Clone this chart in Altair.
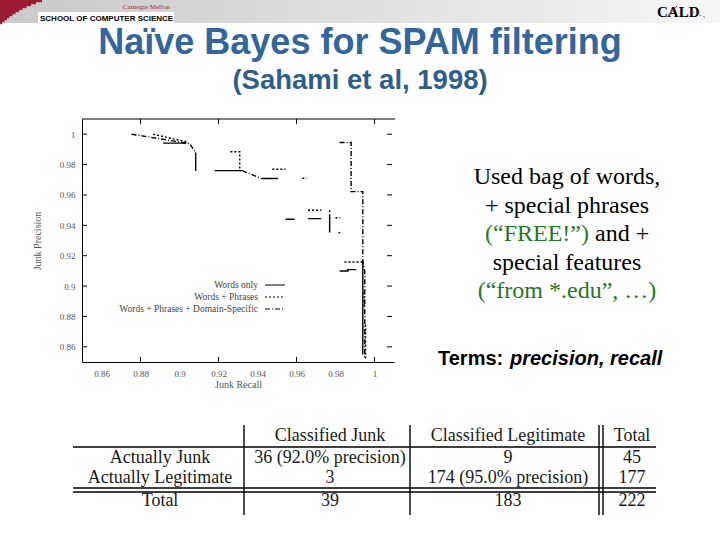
import altair as alt
import pandas as pd

# ---------------- data ----------------
series_names = ["Words only", "Words + Phrases", "Words + Phrases + Domain-Specific"]

words_recall = [0.8916, 0.9035, 0.9083, 0.9083, 0.9180, 0.9322, 0.9420, 0.9505,
                0.9544, 0.9590, 0.9659, 0.9727, 0.9770, 0.9770, 0.9821, 0.9863,
                0.9863, 0.9906, 0.9940, 0.9940]
words_precision = [0.9941, 0.9941, 0.9879, 0.9758, 0.9760, 0.9760, 0.9708, 0.9708,
                   0.9440, 0.9440, 0.9444, 0.9444, 0.9465, 0.9352, 0.9099, 0.9099,
                   0.9108, 0.9108, 0.9165, 0.8550]
words_piece = [0, 0, 1, 1, 2, 2, 3, 3, 4, 4, 5, 5, 6, 6, 7, 7, 7, 7, 8, 8]

phrases_recall = [0.8865, 0.9035, 0.9261, 0.9309, 0.9309, 0.9476, 0.9544, 0.9630,
                  0.9653, 0.9659, 0.9727, 0.9770, 0.9770, 0.9800, 0.9824, 0.9815,
                  0.9824, 0.9846, 0.9937, 0.9947, 0.9947, 0.9954, 0.9954]
phrases_precision = [1.0000, 0.9950, 0.9884, 0.9884, 0.9760, 0.9769, 0.9769, 0.9710,
                     0.9710, 0.9499, 0.9499, 0.9500, 0.9440, 0.9450, 0.9450, 0.9352,
                     0.9352, 0.9158, 0.9158, 0.8960, 0.8857, 0.8747, 0.8516]
phrases_piece = [0, 0, 1, 1, 1, 2, 2, 3, 3, 4, 4, 5, 5, 6, 6, 7, 7, 8, 8, 9, 9, 10, 10]

domain_recall = [0.8754, 0.9052, 0.9083, 0.9322, 0.9420, 0.9821, 0.9880, 0.9880,
                 0.9940, 0.9940, 0.9950, 0.9950]
domain_precision = [1.0000, 0.9938, 0.9879, 0.9760, 0.9708, 0.9945, 0.9945, 0.9622,
                    0.9622, 0.9165, 0.9100, 0.8520]
domain_piece = [0, 0, 0, 1, 1, 2, 2, 2, 2, 2, 2, 2]

x_tick_values = [0.86, 0.88, 0.90, 0.92, 0.94, 0.96, 0.98, 1.00]
y_tick_values = [0.86, 0.88, 0.90, 0.92, 0.94, 0.96, 0.98, 1.00]
x_inner_ticks = [0.88, 0.92, 0.96, 1.00]

title_text = "Naïve Bayes for SPAM filtering"
subtitle_text = "(Sahami et al, 1998)"
side_lines = ["Used bag of words,", "+ special phrases", "(“FREE!”)", "and +",
              "special features", "(“from *.edu”, …)"]
terms_bold = "Terms:"
terms_italic = "precision, recall"

table_header = ["", "Classified Junk", "Classified Legitimate", "Total"]
table_row_labels = ["Actually Junk", "Actually Legitimate", "Total"]
table_col_junk = ["36 (92.0% precision)", "3", "39"]
table_col_legit = ["9", "174 (95.0% precision)", "183"]
table_col_total = ["45", "177", "222"]

# ---------------- layout ----------------
L, T = 82, 119          # plot-area origin on the page
W, H = 312, 243         # plot-area size
def X(px):
    return px - L
def Y(py):
    return py - T

SERIF = "Liberation Serif"
SANS = "Liberation Sans"

rows = []
for name, rs, ps, pcs in [(series_names[0], words_recall, words_precision, words_piece),
                          (series_names[1], phrases_recall, phrases_precision, phrases_piece),
                          (series_names[2], domain_recall, domain_precision, domain_piece)]:
    for k, (r, p, pc) in enumerate(zip(rs, ps, pcs)):
        rows.append({"series": name, "recall": r, "precision": p,
                     "piece": f"{name}-{pc}", "k": k})
df = pd.DataFrame(rows)

xs = alt.Scale(domain=[0.85, 1.01], nice=False, zero=False)
ys = alt.Scale(domain=[0.85, 1.01], nice=False, zero=False)
x_axis = alt.Axis(values=x_tick_values, format="~g", ticks=False, grid=False,
                  domainColor="black", domainWidth=1, labelFont=SERIF, labelFontSize=9,
                  labelColor="#555", labelPadding=7, labelFlush=False, labelOverlap=False,
                  title="Junk Recall", titleFont=SERIF, titleFontSize=10,
                  titleFontWeight="normal", titleColor="#555", titlePadding=1)
y_axis = alt.Axis(values=y_tick_values, format="~g", ticks=False, grid=False,
                  domainColor="black", domainWidth=1, labelFont=SERIF, labelFontSize=9,
                  labelColor="#555", labelPadding=7, labelFlush=False, labelOverlap=False,
                  title="Junk Precision", titleFont=SERIF, titleFontSize=10,
                  titleFontWeight="normal", titleColor="#555", titlePadding=17)
dash_scale = alt.Scale(domain=series_names, range=[[1, 0], [2, 2], [5, 2, 1, 2]])

lines = alt.Chart(df).mark_line(strokeWidth=1.4, color="black").encode(
    x=alt.X("recall:Q", scale=xs, axis=x_axis),
    y=alt.Y("precision:Q", scale=ys, axis=y_axis),
    strokeDash=alt.StrokeDash("series:N", scale=dash_scale, legend=None),
    detail="piece:N",
    order="k:Q",
)

yt = pd.DataFrame({"precision": y_tick_values})
xt = pd.DataFrame({"recall": x_inner_ticks})
left_ticks = alt.Chart(yt).mark_rule(color="black").encode(
    y=alt.Y("precision:Q", scale=ys, axis=y_axis), x=alt.value(0), x2=alt.value(5))
right_ticks = alt.Chart(yt).mark_rule(color="black").encode(
    y=alt.Y("precision:Q", scale=ys, axis=y_axis), x=alt.value(W - 7), x2=alt.value(W - 2))
bottom_ticks = alt.Chart(xt).mark_rule(color="black").encode(
    x=alt.X("recall:Q", scale=xs, axis=x_axis), y=alt.value(H), y2=alt.value(H - 5))
top_ticks = alt.Chart(xt).mark_rule(color="black").encode(
    x=alt.X("recall:Q", scale=xs, axis=x_axis), y=alt.value(0), y2=alt.value(5))
top_border = alt.Chart(pd.DataFrame({"a": [0]})).mark_rule(color="black").encode(
    x=alt.value(0), x2=alt.value(W + 1), y=alt.value(0))

layers = [lines, left_ticks, right_ticks, bottom_ticks, top_ticks, top_border]


def label(s, x, y, **kw):
    return alt.Chart(pd.DataFrame({"label": [s]})).mark_text(**kw).encode(
        x=alt.value(X(x)), y=alt.value(Y(y)), text="label:N")


def rule(x1, y1, x2, y2, **kw):
    return alt.Chart(pd.DataFrame({"a": [0]})).mark_rule(**kw).encode(
        x=alt.value(X(x1)), x2=alt.value(X(x2)), y=alt.value(Y(y1)), y2=alt.value(Y(y2)))


def rect(x1, y1, x2, y2, **kw):
    return alt.Chart(pd.DataFrame({"a": [0]})).mark_rect(**kw).encode(
        x=alt.value(X(x1)), x2=alt.value(X(x2)), y=alt.value(Y(y1)), y2=alt.value(Y(y2)))


# legend inside plot
legend_y = [285, 297, 309]
for name, ly, dash in zip(series_names, legend_y, [[1, 0], [2, 2], [5, 2, 1, 2]]):
    layers.append(label(name, 258, ly, align="right", baseline="middle", font=SERIF,
                        fontSize=9.5, color="#444"))
    layers.append(rule(265, ly, 285, ly, color="black", strokeWidth=1.1, strokeDash=dash))

# header band
grad = alt.Gradient(gradient="linear",
                    stops=[alt.GradientStop(color="#c9c9c9", offset=0),
                           alt.GradientStop(color="#dfdfdf", offset=0.5),
                           alt.GradientStop(color="#f6f6f6", offset=1)],
                    x1=0, x2=1, y1=0, y2=0)
layers.append(rect(0, 0, 720, 23, color=grad))
# red corner swoosh drawn as thin horizontal strips (decoration)
swoosh_edge = [42, 36, 31, 26.5, 22.5, 19, 15.5, 12.5, 9.5, 7, 4.5, 2]
for i, xe in enumerate(swoosh_edge):
    layers.append(rect(0, 2 * i, xe, 2 * i + 2.2, color="#9e1c33"))
layers.append(rect(38, 12, 174, 23, color="white"))
layers.append(label("Carnegie Mellon", 170, 9, align="right", baseline="alphabetic",
                    font=SERIF, fontSize=7, color="#a31f34"))
layers.append(label("SCHOOL OF COMPUTER SCIENCE", 40, 20.5, align="left",
                    baseline="alphabetic", font=SANS, fontSize=8, fontWeight="bold",
                    color="black"))
layers.append(label("CALD", 657, 17, align="left", baseline="alphabetic", font=SERIF,
                    fontSize=15, fontWeight="bold", color="black"))
layers.append(rule(667, 17, 677, 6, color="#b0202e", strokeWidth=1))
layers.append(rule(692, 12, 707, 18, color="#777", strokeWidth=1, strokeDash=[2, 2]))

# titles
layers.append(label(title_text, 360, 54, align="center", baseline="alphabetic",
                    font=SANS, fontSize=36, fontWeight="bold", color="#33669a"))
layers.append(label(subtitle_text, 360, 89, align="center", baseline="alphabetic",
                    font=SANS, fontSize=27.5, fontWeight="bold", color="#2f5e8c"))

# side text
GREEN = "#1f7a1f"
layers.append(label(side_lines[0], 567, 177, align="center", font=SERIF, fontSize=24,
                    color="black"))
layers.append(label(side_lines[1], 567, 205.5, align="center", font=SERIF, fontSize=24,
                    color="black"))
layers.append(label(side_lines[2], 589, 234, align="right", font=SERIF, fontSize=24,
                    color=GREEN))
layers.append(label(side_lines[3], 595, 234, align="left", font=SERIF, fontSize=24,
                    color="black"))
layers.append(label(side_lines[4], 567, 262.5, align="center", font=SERIF, fontSize=24,
                    color="black"))
layers.append(label(side_lines[5], 567, 291, align="center", font=SERIF, fontSize=24,
                    color=GREEN))
layers.append(label(terms_bold, 438, 359, align="left", font=SANS, fontSize=20,
                    fontWeight="bold", color="black"))
layers.append(label(terms_italic, 510, 359, align="left", font=SANS, fontSize=20,
                    fontWeight="bold", fontStyle="italic", color="black"))

# table
col_x = [160, 330, 508, 632]
row_y = [436, 458, 478, 501]
TFONT = dict(font=SERIF, fontSize=18, color="#1a1a1a", align="center", baseline="middle")
for j, h in enumerate(table_header):
    if h:
        layers.append(label(h, col_x[j], row_y[0], **TFONT))
for i, cells in enumerate(zip(table_row_labels, table_col_junk, table_col_legit,
                              table_col_total)):
    for j, c in enumerate(cells):
        layers.append(label(c, col_x[j], row_y[i + 1], **TFONT))
for yy in [447, 488, 492]:
    layers.append(rule(73, yy, 656, yy, color="black", strokeWidth=1.4))
for xx in [244, 410, 599, 603]:
    layers.append(rule(xx, 425, xx, 515, color="black", strokeWidth=1.4))

chart = alt.layer(*layers).properties(
    width=W, height=H,
    padding={"left": L, "top": T, "right": 720 - L - W, "bottom": 540 - T - H},
    autosize=alt.AutoSizeParams(type="none"),
    background="white",
).configure_view(stroke=None)

chart.save("out.html", embed_options={"renderer": "svg", "actions": False})
